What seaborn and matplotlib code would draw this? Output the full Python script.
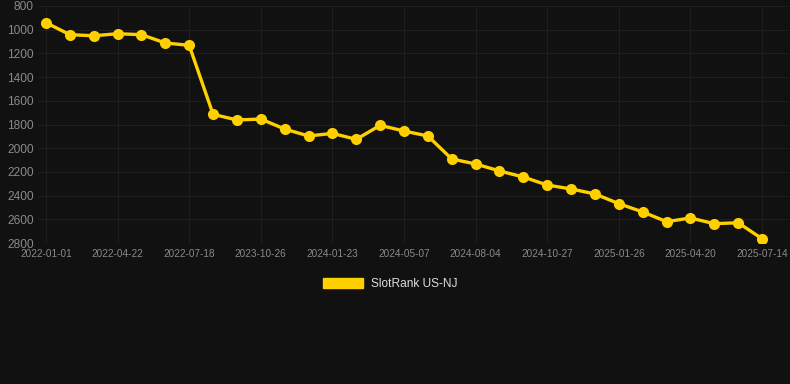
import matplotlib
matplotlib.use("Agg")
import matplotlib.pyplot as plt
import seaborn as sns
import pandas as pd
from matplotlib.patches import Patch

dates = ["2022-01-01", "2022-02-07", "2022-03-16", "2022-04-22", "2022-05-22",
         "2022-06-20", "2022-07-18", "2023-02-15", "2023-07-05", "2023-10-26",
         "2023-11-25", "2023-12-24", "2024-01-23", "2024-02-26", "2024-04-01",
         "2024-05-07", "2024-06-05", "2024-07-05", "2024-08-04", "2024-09-01",
         "2024-09-29", "2024-10-27", "2024-11-26", "2024-12-26", "2025-01-26",
         "2025-02-22", "2025-03-22", "2025-04-20", "2025-05-18", "2025-06-16",
         "2025-07-14"]
ranks = [941, 1042, 1051, 1034, 1042, 1112, 1132, 1714, 1762, 1754,
         1838, 1897, 1875, 1925, 1807, 1855, 1897, 2091, 2133, 2192,
         2243, 2311, 2344, 2386, 2468, 2538, 2620, 2589, 2637, 2629,
         2764]
series_name = "SlotRank US-NJ"
y_ticks = [800, 1000, 1200, 1400, 1600, 1800, 2000, 2200, 2400, 2600, 2800]

BG = "#111111"
GOLD = "#FFD000"
GRID = "#1e1e1e"
TXT = "#8a8a8a"

sns.set_theme(style="dark")
plt.rcParams["font.family"] = ["Liberation Sans", "DejaVu Sans"]

df = pd.DataFrame({"idx": range(len(dates)), "date": dates, "rank": ranks})

fig = plt.figure(figsize=(7.9, 3.84), dpi=100, facecolor=BG)
ax = fig.add_axes([38 / 790, 1 - 243 / 384, 751 / 790, 237 / 384])
ax.set_facecolor(BG)

sns.lineplot(data=df, x="idx", y="rank", ax=ax, color=GOLD, linewidth=2.4,
             marker="o", markersize=8, markeredgewidth=0, legend=False)

ax.set_ylim(2800, 800)
ax.set_yticks(y_ticks)
ax.set_yticklabels([str(v) for v in y_ticks])
ax.set_xlim(-0.335, 31.13)
tick_idx = list(range(0, len(dates), 3))
ax.set_xticks(tick_idx)
ax.set_xticklabels([dates[i] for i in tick_idx])

ax.grid(True, color=GRID, linewidth=0.8)
ax.set_axisbelow(True)
for s in ax.spines.values():
    s.set_visible(False)
ax.tick_params(axis="y", colors=TXT, labelsize=8.6, length=0, pad=3)
ax.tick_params(axis="x", colors=TXT, labelsize=7.2, length=0, pad=4)
ax.set_xlabel("")
ax.set_ylabel("")

handle = Patch(facecolor=GOLD, edgecolor=GOLD)
leg = fig.legend([handle], [series_name], loc="center", bbox_to_anchor=(390 / 790, 1 - 284 / 384),
                 frameon=False, fontsize=8.6, handlelength=3.4, handleheight=1.0,
                 handletextpad=0.6, labelcolor="#dddddd")

fig.savefig("out.png", dpi=100, facecolor=BG)
